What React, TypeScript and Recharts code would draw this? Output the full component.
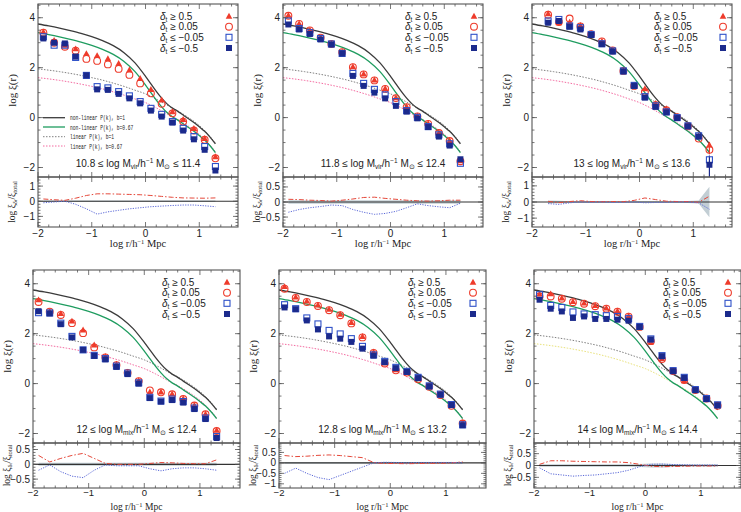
import React from 'react';
import { ComposedChart, Line, Scatter, Area, XAxis, YAxis, ReferenceLine } from 'recharts';

// ---------- axes ----------
const X_DOMAIN: [number, number] = [-2, 1.72];
const Y_DOMAIN: [number, number] = [-2.38, 4.55];
const X_MAJOR = [-2, -1, 0, 1];
const X_MINOR = [-1.8, -1.6, -1.4, -1.2, -0.8, -0.6, -0.4, -0.2, 0.2, 0.4, 0.6, 0.8, 1.2, 1.4, 1.6];
const Y_MAJOR = [-2, 0, 2, 4];
const Y_MINOR = [-2, -1.5, -1, -0.5, 0, 0.5, 1, 1.5, 2, 2.5, 3, 3.5, 4, 4.5];
const RES_MAJOR_1 = [-1, 0, 1];
const RES_MAJOR_05 = [-0.5, 0, 0.5];
const RES_MAJOR_P5 = [-1, -0.5, 0, 0.5];
const RES_MINOR_02 = [-1.6, -1.4, -1.2, -1, -0.8, -0.6, -0.4, -0.2, 0, 0.2, 0.4, 0.6, 0.8, 1, 1.2, 1.4, 1.6];
const RES_MINOR_01 = [-1.2, -1.1, -1, -0.9, -0.8, -0.7, -0.6, -0.5, -0.4, -0.3, -0.2, -0.1, 0, 0.1, 0.2, 0.3, 0.4, 0.5, 0.6, 0.7, 0.8, 0.9];

// ---------- theory curves ----------
const THEORY_R = [-2.0, -1.8, -1.6, -1.4, -1.2, -1.0, -0.8, -0.6, -0.4, -0.2, 0.0, 0.1, 0.2, 0.3, 0.4, 0.5, 0.6, 0.7, 0.8, 0.9, 1.0, 1.1, 1.2, 1.3];
const NL_B1 = [3.75, 3.67, 3.58, 3.48, 3.37, 3.24, 3.08, 2.88, 2.6, 2.2, 1.65, 1.35, 1.05, 0.78, 0.55, 0.38, 0.25, 0.1, -0.05, -0.2, -0.37, -0.55, -0.78, -1.05];
const NL_B067 = [3.4, 3.32, 3.23, 3.13, 3.02, 2.89, 2.73, 2.53, 2.25, 1.85, 1.3, 1.0, 0.7, 0.43, 0.2, 0.03, -0.1, -0.25, -0.4, -0.55, -0.72, -0.9, -1.13, -1.4];
const LIN_B1 = [1.95, 1.9, 1.84, 1.77, 1.69, 1.6, 1.5, 1.38, 1.25, 1.1, 0.95, 0.85, 0.74, 0.62, 0.5, 0.38, 0.27, 0.14, 0.0, -0.15, -0.32, -0.52, -0.76, -1.02];
const LIN_B067 = [1.6, 1.55, 1.49, 1.42, 1.34, 1.25, 1.15, 1.03, 0.9, 0.75, 0.6, 0.5, 0.39, 0.27, 0.15, 0.03, -0.08, -0.21, -0.35, -0.5, -0.67, -0.87, -1.11, -1.37];

// ---------- measurement bins ----------
const R_BINS = [-1.9, -1.7, -1.5, -1.3, -1.1, -0.9, -0.7, -0.5, -0.3, -0.1, 0.1, 0.3, 0.5, 0.7, 0.9, 1.1, 1.3];
const R_BINS_P3 = [-1.7, -1.5, -1.3, -1.1, -0.9, -0.7, -0.5, -0.3, -0.1, 0.1, 0.3, 0.5, 0.7, 0.9, 1.1, 1.3];

// Panel 1: 10.8-11.4 Mvir
const P1_TRI = [3.44, 3.1, 2.9, 2.76, 2.57, 2.49, 2.36, 2.17, 1.91, 1.57, 1.13, 0.71, 0.24, -0.07, -0.43, -0.83, -1.56];
const P1_CIRC = [3.4, 3.0, 2.84, 2.68, 2.35, 2.27, 2.13, 1.95, 1.71, 1.37, 0.97, 0.55, 0.17, -0.16, -0.52, -0.89, -1.63];
const P1_OSQ = [3.24, 2.9, 2.9, 2.41, 1.69, 1.24, 1.19, 1.04, 0.87, 0.64, 0.37, 0.13, -0.16, -0.43, -0.76, -1.16, -1.96];
const P1_FSQ = [3.17, 3.0, 2.97, 2.44, 1.69, 1.13, 1.11, 0.95, 0.77, 0.57, 0.28, 0.04, -0.2, -0.52, -0.87, -1.29, -2.12];
const P1_RES_HI = [0.15, 0.1, 0.06, 0.2, 0.38, 0.49, 0.49, 0.47, 0.45, 0.43, 0.38, 0.32, 0.26, 0.22, 0.21, 0.2, 0.22];
const P1_RES_LO = [-0.1, -0.05, 0.0, -0.2, -0.5, -0.85, -0.7, -0.6, -0.5, -0.43, -0.36, -0.32, -0.28, -0.25, -0.25, -0.3, -0.36];
const P1_BAND = [0.05, 0.05, 0.05, 0.05, 0.05, 0.05, 0.05, 0.05, 0.05, 0.05, 0.05, 0.05, 0.05, 0.05, 0.05, 0.05, 0.05];

// Panel 2: 11.8-12.4 Mvir
const P2_TRI = [4.1, 3.77, 3.51, 3.21, 2.97, 2.64, 2.04, 1.75, 1.51, 1.17, 0.8, 0.44, 0.07, -0.23, -0.6, -0.92, -1.72];
const P2_CIRC = [4.08, 3.75, 3.49, 3.2, 2.95, 2.62, 2.02, 1.73, 1.49, 1.15, 0.78, 0.42, 0.05, -0.25, -0.62, -0.94, -1.75];
const P2_OSQ = [3.87, 3.57, 3.4, 3.17, 2.95, 2.57, 1.77, 1.37, 1.13, 0.91, 0.64, 0.28, 0.01, -0.36, -0.69, -1.05, -1.83];
const P2_FSQ = [3.73, 3.53, 3.35, 3.13, 2.93, 2.57, 1.67, 1.27, 1.0, 0.77, 0.47, 0.24, -0.03, -0.38, -0.76, -1.12, -1.67];
const P2_RES_HI = [0.09, 0.08, 0.06, 0.05, 0.03, 0.06, 0.1, 0.15, 0.16, 0.12, 0.09, 0.06, 0.04, 0.03, 0.04, 0.06, 0.06];
const P2_RES_LO = [-0.34, -0.25, -0.19, -0.15, -0.1, -0.12, -0.25, -0.34, -0.41, -0.38, -0.31, -0.19, -0.06, -0.12, -0.16, -0.19, -0.04];
const P2_BAND = [0.06, 0.06, 0.06, 0.06, 0.06, 0.06, 0.06, 0.06, 0.06, 0.06, 0.06, 0.06, 0.06, 0.06, 0.06, 0.06, 0.06];

// Panel 3: 13-13.6 Mvir
const P3_TRI = [4.17, 3.8, 3.83, 3.7, 3.36, 3.07, 2.71, 1.89, 1.29, 1.16, 0.57, 0.36, 0.04, -0.33, -0.73, -1.09];
const P3_CIRC = [4.12, 3.83, 3.97, 3.65, 3.34, 3.05, 2.69, 1.87, 1.27, 1.03, 0.5, 0.3, 0.02, -0.35, -0.84, -1.29];
const P3_OSQ = [3.87, 3.93, 3.67, 3.6, 3.33, 2.96, 2.67, 1.87, 1.29, 0.84, 0.47, 0.23, 0.0, -0.33, -0.73, -1.69];
const P3_FSQ = [3.8, 3.87, 3.64, 3.53, 3.31, 2.94, 2.65, 1.85, 1.27, 0.8, 0.43, 0.21, -0.02, -0.35, -0.76, -1.89];
const P3_RES_HI = [0.04, -0.04, 0.03, 0.08, 0.03, 0.02, 0.03, 0.02, 0.1, 0.25, 0.15, 0.05, 0.03, 0.03, -0.02, 0.36];
const P3_RES_LO = [-0.1, -0.15, -0.05, 0.0, -0.02, 0.0, -0.03, -0.02, 0.0, -0.05, -0.03, -0.02, 0.0, 0.0, -0.05, -0.45];
const P3_BAND = [0.1, 0.08, 0.05, 0.04, 0.04, 0.04, 0.04, 0.04, 0.04, 0.05, 0.05, 0.05, 0.05, 0.06, 0.1, 0.95];
const P3_ERR_X = [1.3, 1.3];
const P3_ERR_LO = [-1.47, -2.6];
const P3_ERR_HI = [-0.98, -1.52];

// Panel 4: 12-12.4 Mmix
const P4_TRI = [3.36, 2.9, 2.81, 2.51, 2.15, 1.55, 1.09, 0.78, 0.46, 0.12, -0.33, -0.33, -0.41, -0.6, -0.86, -1.21, -1.86];
const P4_CIRC = [3.27, 2.88, 2.75, 2.42, 2.02, 1.45, 1.05, 0.74, 0.43, 0.1, -0.27, -0.35, -0.43, -0.62, -0.88, -1.23, -1.9];
const P4_OSQ = [2.84, 2.83, 2.42, 1.89, 1.35, 1.13, 1.0, 0.7, 0.42, 0.03, -0.55, -0.7, -0.62, -0.72, -0.98, -1.38, -2.12];
const P4_FSQ = [2.9, 2.81, 2.38, 1.85, 1.35, 1.11, 0.97, 0.67, 0.38, 0.0, -0.58, -0.72, -0.66, -0.76, -1.02, -1.42, -2.18];
const P4_RES_HI = [0.3, 0.08, 0.2, 0.3, 0.37, 0.2, 0.03, 0.0, 0.0, 0.0, 0.03, 0.06, 0.05, 0.03, 0.02, 0.02, 0.15];
const P4_RES_LO = [-0.2, -0.02, -0.25, -0.4, -0.45, -0.2, -0.02, -0.05, -0.05, -0.05, -0.15, -0.22, -0.15, -0.12, -0.12, -0.15, -0.2];
const P4_BAND = [0.05, 0.05, 0.05, 0.05, 0.05, 0.05, 0.05, 0.05, 0.05, 0.05, 0.05, 0.05, 0.05, 0.05, 0.05, 0.05, 0.05];

// Panel 5: 12.8-13.2 Mmix
const P5_TRI = [3.89, 3.47, 3.31, 3.15, 2.98, 2.78, 2.45, 1.89, 1.27, 0.83, 0.56, 0.47, 0.2, -0.11, -0.44, -0.87, -1.55];
const P5_CIRC = [3.8, 3.43, 3.27, 3.11, 2.94, 2.74, 2.41, 1.85, 1.23, 0.8, 0.53, 0.44, 0.17, -0.13, -0.46, -0.89, -1.6];
const P5_OSQ = [3.16, 3.0, 2.63, 2.39, 2.13, 1.99, 1.8, 1.49, 1.15, 0.89, 0.65, 0.49, 0.25, -0.09, -0.42, -0.84, -1.65];
const P5_FSQ = [3.05, 2.98, 2.53, 2.17, 1.89, 1.8, 1.67, 1.4, 1.12, 0.86, 0.62, 0.47, 0.22, -0.11, -0.44, -0.86, -1.67];
const P5_RES_HI = [0.35, 0.3, 0.32, 0.36, 0.38, 0.35, 0.3, 0.25, 0.02, -0.03, -0.03, -0.04, -0.03, -0.02, -0.02, 0.0, 0.05];
const P5_RES_LO = [-0.5, -0.25, -0.5, -0.7, -0.8, -0.6, -0.4, -0.2, 0.0, 0.03, 0.02, 0.0, 0.02, 0.02, 0.02, 0.02, 0.0];
const P5_BAND = [0.04, 0.04, 0.04, 0.04, 0.04, 0.04, 0.04, 0.04, 0.04, 0.04, 0.04, 0.04, 0.04, 0.04, 0.04, 0.04, 0.04];

// Panel 6: 14-14.4 Mmix
const P6_TRI = [3.59, 3.6, 3.43, 3.29, 3.23, 3.13, 3.03, 2.92, 2.72, 2.29, 1.67, 1.0, 0.52, 0.12, -0.24, -0.6, -0.87];
const P6_CIRC = [3.49, 3.49, 3.4, 3.26, 3.2, 3.1, 3.0, 2.88, 2.68, 2.27, 1.7, 0.98, 0.5, 0.14, -0.26, -0.6, -0.89];
const P6_OSQ = [3.56, 3.13, 3.05, 2.87, 2.79, 2.76, 2.72, 2.69, 2.6, 2.29, 1.79, 1.12, 0.52, 0.25, -0.24, -0.6, -0.85];
const P6_FSQ = [3.36, 3.0, 2.89, 2.63, 2.69, 2.59, 2.59, 2.56, 2.52, 2.27, 1.77, 1.1, 0.5, 0.23, -0.26, -0.62, -0.87];
const P6_RES_HI = [0.05, 0.2, 0.2, 0.18, 0.17, 0.16, 0.15, 0.15, 0.12, 0.05, -0.03, -0.05, -0.04, -0.03, -0.02, -0.02, -0.02];
const P6_RES_LO = [-0.1, -0.35, -0.4, -0.45, -0.42, -0.4, -0.35, -0.3, -0.2, -0.05, 0.05, 0.06, 0.04, 0.03, 0.02, 0.02, 0.02];
const P6_BAND = [0.05, 0.05, 0.05, 0.05, 0.05, 0.05, 0.05, 0.05, 0.05, 0.06, 0.08, 0.08, 0.06, 0.05, 0.05, 0.05, 0.05];

const LEGEND_LINES = ['non-linear P(k), b=1', 'non-linear P(k), b=0.67', 'linear P(k), b=1', 'linear P(k), b=0.67'];
const LEGEND_MARKS = ['≥ 0.5', '≥ 0.05', '≤ −0.05', '≤ −0.5'];

// ---------- styles ----------
const RED = '#ee3b2b';
const BLUE_OPEN = '#2e50c8';
const BLUE_FILL = '#1b2a8c';
const BLACK_LINE = '#3b3b3b';
const GREEN = '#1e9c5f';
const GRAY_DOT = '#808080';
const PINK_DOT = '#f46aa0';
const YELLOW_DOT = '#e9e27a';
const RES_RED = '#e5483a';
const RES_BLUE = '#5a68d8';
const BAND = '#b7c5cc';
const FRAME = '#555';
const AXW = 40;
const XLAB = 24;
const SANS = 'Liberation Sans, Arial, sans-serif';
const SERIF = 'Liberation Serif, Times New Roman, serif';
const MONO = 'Liberation Mono, Courier New, monospace';

const fmt = (v: number) => String(v).replace('-', '−');
const TICK = { fontSize: 10, fill: '#222', fontFamily: SANS };
const TICK_SM = { fontSize: 9.5, fill: '#222', fontFamily: SANS };

function chartAxes(yDomain: [number, number], yMajor: number[], showX: boolean, xMargin: number) {
  const inD = (t: number) => t >= yDomain[0] - 1e-9 && t <= yDomain[1] + 1e-9;
  return [
    <XAxis key="b" xAxisId="b" dataKey="x" type="number" allowDataOverflow interval={0} domain={X_DOMAIN} ticks={X_MAJOR} orientation="bottom" height={showX ? XLAB : 0} tickSize={-5} tickMargin={xMargin} tick={showX ? (xMargin < 8 ? TICK_SM : TICK) : false} tickFormatter={fmt} axisLine={false} tickLine={false} />,
    <YAxis key="l" yAxisId="l" type="number" allowDataOverflow interval={0} domain={yDomain} ticks={yMajor.filter(inD)} orientation="left" width={AXW} tickSize={-5} tickMargin={8} tick={TICK} tickFormatter={fmt} axisLine={false} tickLine={false} />,
  ];
}

// frame box with inward ticks on all four sides (decoration of the plot area)
function FrameBox({ x0, y0, w, h, yDomain, yMajor, yMinor }: { x0: number; y0: number; w: number; h: number; yDomain: [number, number]; yMajor: number[]; yMinor: number[] }) {
  const sx = (v: number) => x0 + ((v - X_DOMAIN[0]) / (X_DOMAIN[1] - X_DOMAIN[0])) * w;
  const sy = (v: number) => y0 + h - ((v - yDomain[0]) / (yDomain[1] - yDomain[0])) * h;
  const inD = (t: number) => t > yDomain[0] + 1e-6 && t < yDomain[1] - 1e-6;
  let d = '';
  X_MAJOR.forEach((t) => { const x = sx(t); d += `M${x},${y0 + h}v-5M${x},${y0}v5`; });
  X_MINOR.forEach((t) => { const x = sx(t); d += `M${x},${y0 + h}v-2.5M${x},${y0}v2.5`; });
  yMajor.filter(inD).forEach((t) => { const y = sy(t); d += `M${x0},${y}h5M${x0 + w},${y}h-5`; });
  yMinor.filter(inD).forEach((t) => { const y = sy(t); d += `M${x0},${y}h2.5M${x0 + w},${y}h-2.5`; });
  return (
    <g>
      <path d={d} stroke={FRAME} strokeWidth={0.8} fill="none" />
      <rect x={x0} y={y0} width={w} height={h} fill="none" stroke={FRAME} strokeWidth={1.1} />
    </g>
  );
}

// ---------- marker shapes ----------
const TriShape = (p: any) => {
  const { cx, cy } = p;
  if (cx == null || cy == null) return <g />;
  const s = 3.3;
  return <path d={`M${cx},${cy - s} L${cx + s},${cy + s * 0.8} L${cx - s},${cy + s * 0.8} Z`} fill={RED} />;
};
const CircShape = (p: any) => {
  const { cx, cy } = p;
  if (cx == null || cy == null) return <g />;
  return <circle cx={cx} cy={cy} r={3.4} fill="none" stroke={RED} strokeWidth={1.1} />;
};
const OSqShape = (p: any) => {
  const { cx, cy } = p;
  if (cx == null || cy == null) return <g />;
  return <rect x={cx - 3} y={cy - 3} width={6} height={6} fill="none" stroke={BLUE_OPEN} strokeWidth={1.1} />;
};
const FSqShape = (p: any) => {
  const { cx, cy } = p;
  if (cx == null || cy == null) return <g />;
  return <rect x={cx - 3} y={cy - 3} width={6} height={6} fill={BLUE_FILL} />;
};

type Cfg = {
  left: number; top: number; width: number; mainH: number; resH: number;
  xs: number[]; tri: number[]; circ: number[]; osq: number[]; fsq: number[];
  resHi: number[]; resLo: number[]; band: number[];
  resDomain: [number, number]; resMajor: number[]; resMinor: number[];
  mass: [string, string, string]; linColor: string; lineLegend?: boolean; legendDx: number;
  xMargin: number; titleDy: number; titleSize: number;
  errX?: number[]; errLo?: number[]; errHi?: number[];
};

const TOP = { top: 4, width: 200, mainH: 173, resH: 50, legendDx: 9, xMargin: 8, titleDy: 20, titleSize: 10.5 };
const BOT = { top: 270, width: 207, mainH: 173, resH: 45, legendDx: 13, xMargin: 6, titleDy: 21.8, titleSize: 9.5 };

const PANELS: Cfg[] = [
  { ...TOP, left: 38, xs: R_BINS, tri: P1_TRI, circ: P1_CIRC, osq: P1_OSQ, fsq: P1_FSQ, resHi: P1_RES_HI, resLo: P1_RES_LO, band: P1_BAND, resDomain: [-1.7, 1.6], resMajor: RES_MAJOR_1, resMinor: RES_MINOR_02, mass: ['10.8', 'vir', '11.4'], linColor: PINK_DOT, lineLegend: true },
  { ...TOP, left: 283, xs: R_BINS, tri: P2_TRI, circ: P2_CIRC, osq: P2_OSQ, fsq: P2_FSQ, resHi: P2_RES_HI, resLo: P2_RES_LO, band: P2_BAND, resDomain: [-0.83, 0.83], resMajor: RES_MAJOR_05, resMinor: RES_MINOR_01, mass: ['11.8', 'vir', '12.4'], linColor: PINK_DOT },
  { ...TOP, left: 532, xs: R_BINS_P3, tri: P3_TRI, circ: P3_CIRC, osq: P3_OSQ, fsq: P3_FSQ, resHi: P3_RES_HI, resLo: P3_RES_LO, band: P3_BAND, resDomain: [-1.55, 1.55], resMajor: RES_MAJOR_1, resMinor: RES_MINOR_02, mass: ['13', 'vir', '13.6'], linColor: PINK_DOT, errX: P3_ERR_X, errLo: P3_ERR_LO, errHi: P3_ERR_HI },
  { ...BOT, left: 33, xs: R_BINS, tri: P4_TRI, circ: P4_CIRC, osq: P4_OSQ, fsq: P4_FSQ, resHi: P4_RES_HI, resLo: P4_RES_LO, band: P4_BAND, resDomain: [-0.8, 0.72], resMajor: RES_MAJOR_05, resMinor: RES_MINOR_01, mass: ['12', 'mix', '12.4'], linColor: PINK_DOT },
  { ...BOT, left: 279, xs: R_BINS, tri: P5_TRI, circ: P5_CIRC, osq: P5_OSQ, fsq: P5_FSQ, resHi: P5_RES_HI, resLo: P5_RES_LO, band: P5_BAND, resDomain: [-1.2, 0.95], resMajor: RES_MAJOR_P5, resMinor: RES_MINOR_01, mass: ['12.8', 'mix', '13.2'], linColor: PINK_DOT },
  { ...BOT, left: 534, xs: R_BINS, tri: P6_TRI, circ: P6_CIRC, osq: P6_OSQ, fsq: P6_FSQ, resHi: P6_RES_HI, resLo: P6_RES_LO, band: P6_BAND, resDomain: [-0.95, 0.95], resMajor: RES_MAJOR_05, resMinor: RES_MINOR_01, mass: ['14', 'mix', '14.4'], linColor: YELLOW_DOT },
];

const lineCommon = { xAxisId: 'b', yAxisId: 'l', dataKey: 'y', dot: false, activeDot: false, isAnimationActive: false, type: 'monotone' as const };

function Panel({ c }: { c: Cfg }) {
  const pts = (ys: number[]) => c.xs.map((x, i) => ({ x, y: ys[i] }));
  const curve = (ys: number[]) => THEORY_R.map((x, i) => ({ x, y: ys[i] }));
  const resData = c.xs.map((x, i) => ({ x, hi: c.resHi[i], lo: c.resLo[i], band: [-c.band[i], c.band[i]] }));
  const W = c.width + AXW;
  const fx = AXW;
  const right = AXW + c.width;
  const H = c.mainH + c.resH + 40;
  const mx = right - c.legendDx;
  const tx = right - 78;
  const rowY = [12, 22.7, 33.3, 44];
  return (
    <>
      <div style={{ position: 'absolute', left: c.left - AXW, top: c.top }}>
        <ComposedChart width={W} height={c.mainH} margin={{ top: 0, right: 0, bottom: 0, left: 0 }}>
          {chartAxes(Y_DOMAIN, Y_MAJOR, false, 8)}
          <Line {...lineCommon} data={curve(LIN_B067)} stroke={c.linColor} strokeWidth={1} strokeDasharray="1.5 1.5" />
          <Line {...lineCommon} data={curve(LIN_B1)} stroke={GRAY_DOT} strokeWidth={1} strokeDasharray="1.5 1.5" />
          <Line {...lineCommon} data={curve(NL_B067)} stroke={GREEN} strokeWidth={1.3} />
          <Line {...lineCommon} data={curve(NL_B1)} stroke={BLACK_LINE} strokeWidth={1.3} />
          {c.errX && c.errLo && c.errHi
            ? c.errX.map((x, i) => (
                <Line key={'e' + i} {...lineCommon} type="linear" data={[{ x, y: c.errLo![i] }, { x, y: c.errHi![i] }]} stroke={i === 0 ? RED : BLUE_FILL} strokeWidth={1.2} />
              ))
            : null}
          <Scatter xAxisId="b" yAxisId="l" dataKey="y" data={pts(c.circ)} shape={CircShape} isAnimationActive={false} />
          <Scatter xAxisId="b" yAxisId="l" dataKey="y" data={pts(c.tri)} shape={TriShape} isAnimationActive={false} />
          <Scatter xAxisId="b" yAxisId="l" dataKey="y" data={pts(c.osq)} shape={OSqShape} isAnimationActive={false} />
          <Scatter xAxisId="b" yAxisId="l" dataKey="y" data={pts(c.fsq)} shape={FSqShape} isAnimationActive={false} />
        </ComposedChart>
      </div>
      <div style={{ position: 'absolute', left: c.left - AXW, top: c.top + c.mainH }}>
        <ComposedChart width={W} height={c.resH + XLAB} margin={{ top: 0, right: 0, bottom: 0, left: 0 }}>
          {chartAxes(c.resDomain, c.resMajor, true, c.xMargin)}
          <Area xAxisId="b" yAxisId="l" dataKey="band" data={resData} stroke="none" fill={BAND} fillOpacity={0.85} isAnimationActive={false} type="linear" />
          <ReferenceLine xAxisId="b" yAxisId="l" y={0} stroke="#333" strokeWidth={1.2} />
          <Line xAxisId="b" yAxisId="l" dataKey="hi" data={resData} stroke={RES_RED} strokeWidth={1} strokeDasharray="5 2 1.5 2" dot={false} activeDot={false} isAnimationActive={false} type="linear" />
          <Line xAxisId="b" yAxisId="l" dataKey="lo" data={resData} stroke={RES_BLUE} strokeWidth={1} strokeDasharray="1.2 1.3" dot={false} activeDot={false} isAnimationActive={false} type="linear" />
        </ComposedChart>
      </div>
      <svg width={W + 2} height={H} style={{ position: 'absolute', left: c.left - AXW, top: c.top, pointerEvents: 'none', overflow: 'visible' }}>
        <FrameBox x0={fx} y0={0} w={c.width} h={c.mainH} yDomain={Y_DOMAIN} yMajor={Y_MAJOR} yMinor={Y_MINOR} />
        <FrameBox x0={fx} y0={c.mainH} w={c.width} h={c.resH} yDomain={c.resDomain} yMajor={c.resMajor} yMinor={c.resMinor} />
        {/* y-axis titles */}
        <text transform={`translate(${fx - 26},${c.mainH / 2}) rotate(-90)`} textAnchor="middle" dominantBaseline="central" fontFamily={SERIF} fontSize={11} fill="#222">log ξ(r)</text>
        <text transform={`translate(${fx - 26},${c.mainH + c.resH / 2}) rotate(-90)`} textAnchor="middle" dominantBaseline="central" fontFamily={SERIF} fontSize={9.5} fill="#222">
          log ξ<tspan fontSize={6.5} dy={2}>δ</tspan><tspan fontSize={5} dy={1}>t</tspan><tspan dy={-3}>/ξ</tspan><tspan fontSize={6.5} dy={2}>total</tspan>
        </text>
        {/* x-axis title */}
        <text x={fx + c.width / 2} y={c.mainH + c.resH + c.titleDy} textAnchor="middle" fontFamily={SERIF} fontSize={c.titleSize} fill="#222">
          log r/h<tspan fontSize={6.5} dy={-3}>−1</tspan><tspan dy={3}> Mpc</tspan>
        </text>
        {/* mass range */}
        <text x={fx + c.width / 2} y={c.mainH - 10.5} textAnchor="middle" fontFamily={SANS} fontSize={10} fill="#222">
          {c.mass[0]} ≤ log M<tspan fontSize={6.5} dy={2.5}>{c.mass[1]}</tspan><tspan dy={-2.5}>/h</tspan><tspan fontSize={6.5} dy={-4}>−1</tspan><tspan dy={4}> M</tspan><tspan fontSize={6.5} dy={2.5}>⊙</tspan><tspan dy={-2.5}> ≤ {c.mass[2]}</tspan>
        </text>
        {/* marker legend */}
        {LEGEND_MARKS.map((m, i) => (
          <text key={'lm' + i} x={tx} y={rowY[i] + 3.5} fontFamily={SANS} fontSize={10} fill="#222">
            <tspan fontStyle="italic">δ</tspan><tspan fontSize={6.5} dy={2}>t</tspan><tspan dy={-2}> {m}</tspan>
          </text>
        ))}
        <g>
          <TriShape cx={mx} cy={rowY[0]} />
          <CircShape cx={mx} cy={rowY[1]} />
          <OSqShape cx={mx} cy={rowY[2]} />
          <FSqShape cx={mx} cy={rowY[3]} />
        </g>
        {c.lineLegend
          ? LEGEND_LINES.map((t, i) => {
              const y = [113.7, 123, 132.7, 142][i];
              const st = [
                { stroke: BLACK_LINE, w: 1.3, d: undefined },
                { stroke: GREEN, w: 1.3, d: undefined },
                { stroke: GRAY_DOT, w: 1, d: '1.5 1.5' },
                { stroke: c.linColor, w: 1, d: '1.5 1.5' },
              ][i];
              return (
                <g key={'ll' + i}>
                  <line x1={fx + 5} x2={fx + 27} y1={y} y2={y} stroke={st.stroke} strokeWidth={st.w} strokeDasharray={st.d} />
                  <text x={fx + 32} y={y + 2.5} fontFamily={MONO} fontSize={7.5} fill="#222" textLength={t.length * 2.75} lengthAdjust="spacingAndGlyphs">{t}</text>
                </g>
              );
            })
          : null}
      </svg>
    </>
  );
}

export default function App() {
  return (
    <div style={{ position: 'absolute', left: 0, top: 0, width: 741, height: 512, background: '#fff', overflow: 'hidden' }}>
      {PANELS.map((c, i) => (
        <Panel key={i} c={c} />
      ))}
    </div>
  );
}
